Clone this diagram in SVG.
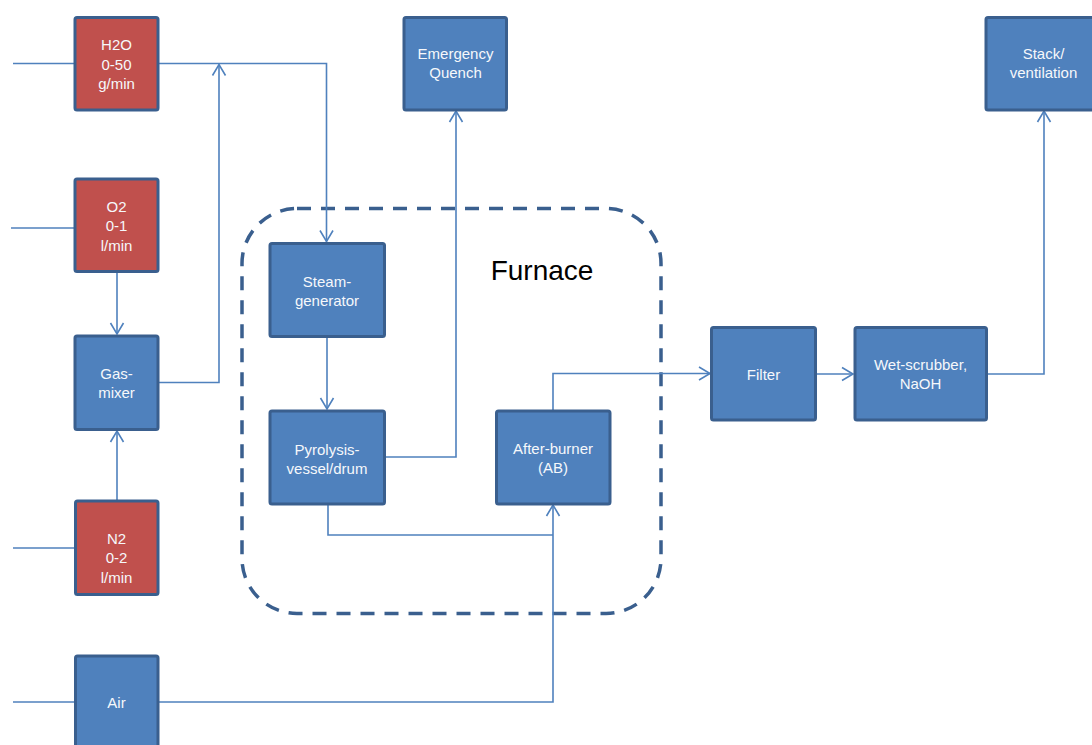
<svg xmlns="http://www.w3.org/2000/svg" width="1092" height="745" viewBox="0 0 1092 745">
  <defs>
    <style>
      .box { stroke: #3a5f8e; stroke-width: 3; }
      .blue { fill: #4f81bd; }
      .red { fill: #c0504d; }
      .lbl { font-family: "Liberation Sans", Arial, sans-serif; font-size: 15px; fill: #f6f8fb; text-anchor: middle; }
      .flow { fill: none; stroke: #4f81bd; stroke-width: 1.6; }
      .furnace { fill: none; stroke: #3a5f8e; stroke-width: 3.5; stroke-dasharray: 14 10; }
      .title { font-family: "Liberation Sans", Arial, sans-serif; font-size: 28px; fill: #000000; text-anchor: middle; }
    </style>
    <marker id="arrow" viewBox="0 0 12 14" refX="11" refY="7" markerWidth="12" markerHeight="14" markerUnits="userSpaceOnUse" orient="auto" overflow="visible">
      <path d="M0,0.5 L11,7 L0,13.5" fill="none" stroke="#4f81bd" stroke-width="1.6"/>
    </marker>
  </defs>

  <rect width="1092" height="745" fill="#ffffff"/>

  <!-- furnace enclosure -->
  <g id="furnace">
    <rect class="furnace" x="242" y="208.5" width="419" height="405" rx="55" ry="55"/>
    <text class="title" x="542" y="280">Furnace</text>
  </g>

  <!-- connectors -->
  <g id="connectors">
    <path class="flow" d="M13,63.5 H75"/>
    <path class="flow" d="M11,228 H74"/>
    <path class="flow" d="M13,548 H75"/>
    <path class="flow" d="M13,702 H75"/>
    <path class="flow" d="M158,63.5 H326.5 V241.5" marker-end="url(#arrow)"/>
    <path class="flow" d="M117,272 V334" marker-end="url(#arrow)"/>
    <path class="flow" d="M117,500 V431" marker-end="url(#arrow)"/>
    <path class="flow" d="M158,382.5 H219 V64.5" marker-end="url(#arrow)"/>
    <path class="flow" d="M327,337 V409" marker-end="url(#arrow)"/>
    <path class="flow" d="M385,457 H456 V111" marker-end="url(#arrow)"/>
    <path class="flow" d="M328,504 V535 H553"/>
    <path class="flow" d="M158,702 H553 V505" marker-end="url(#arrow)"/>
    <path class="flow" d="M553,410 V373.5 H710" marker-end="url(#arrow)"/>
    <path class="flow" d="M816,374 H853" marker-end="url(#arrow)"/>
    <path class="flow" d="M987,374 H1044 V111" marker-end="url(#arrow)"/>
  </g>

  <!-- feed sources -->
  <g id="h2o">
    <rect class="box red" x="75" y="17.5" width="83" height="92.5" rx="2"/>
    <text class="lbl" x="116.5" y="50">H2O</text>
    <text class="lbl" x="116.5" y="69.5">0-50</text>
    <text class="lbl" x="116.5" y="89">g/min</text>
  </g>
  <g id="o2">
    <rect class="box red" x="75" y="179" width="83" height="92.5" rx="2"/>
    <text class="lbl" x="116.5" y="211.5">O2</text>
    <text class="lbl" x="116.5" y="231">0-1</text>
    <text class="lbl" x="116.5" y="250.5">l/min</text>
  </g>
  <g id="gas-mixer">
    <rect class="box blue" x="75" y="336" width="83" height="93.5" rx="2"/>
    <text class="lbl" x="116.5" y="379">Gas-</text>
    <text class="lbl" x="116.5" y="398">mixer</text>
  </g>
  <g id="n2">
    <rect class="box red" x="75.5" y="501" width="82.5" height="93.5" rx="2"/>
    <text class="lbl" x="116.5" y="543.5">N2</text>
    <text class="lbl" x="116.5" y="563">0-2</text>
    <text class="lbl" x="116.5" y="582.5">l/min</text>
  </g>
  <g id="air">
    <rect class="box blue" x="75.5" y="656" width="82.5" height="100" rx="2"/>
    <text class="lbl" x="116.5" y="708">Air</text>
  </g>

  <!-- furnace internals -->
  <g id="steam-generator">
    <rect class="box blue" x="270" y="243.5" width="114.5" height="93" rx="2"/>
    <text class="lbl" x="327" y="287">Steam-</text>
    <text class="lbl" x="327" y="306">generator</text>
  </g>
  <g id="pyrolysis">
    <rect class="box blue" x="270" y="411" width="114.5" height="93" rx="2"/>
    <text class="lbl" x="327" y="455">Pyrolysis-</text>
    <text class="lbl" x="327" y="474">vessel/drum</text>
  </g>
  <g id="after-burner">
    <rect class="box blue" x="496.5" y="411" width="113.5" height="93" rx="2"/>
    <text class="lbl" x="553" y="453.5">After-burner</text>
    <text class="lbl" x="553" y="472.5">(AB)</text>
  </g>

  <!-- off-gas line -->
  <g id="emergency-quench">
    <rect class="box blue" x="404" y="17.5" width="102.5" height="92.5" rx="2"/>
    <text class="lbl" x="455.5" y="59">Emergency</text>
    <text class="lbl" x="455.5" y="78">Quench</text>
  </g>
  <g id="filter">
    <rect class="box blue" x="711.5" y="327.5" width="104" height="92.5" rx="2"/>
    <text class="lbl" x="763.5" y="380">Filter</text>
  </g>
  <g id="wet-scrubber">
    <rect class="box blue" x="855" y="327.5" width="131.5" height="92.5" rx="2"/>
    <text class="lbl" x="920.5" y="370">Wet-scrubber,</text>
    <text class="lbl" x="920.5" y="389">NaOH</text>
  </g>
  <g id="stack">
    <rect class="box blue" x="986" y="17.5" width="110" height="92.5" rx="2"/>
    <text class="lbl" x="1043.5" y="59">Stack/</text>
    <text class="lbl" x="1043.5" y="78">ventilation</text>
  </g>
</svg>
